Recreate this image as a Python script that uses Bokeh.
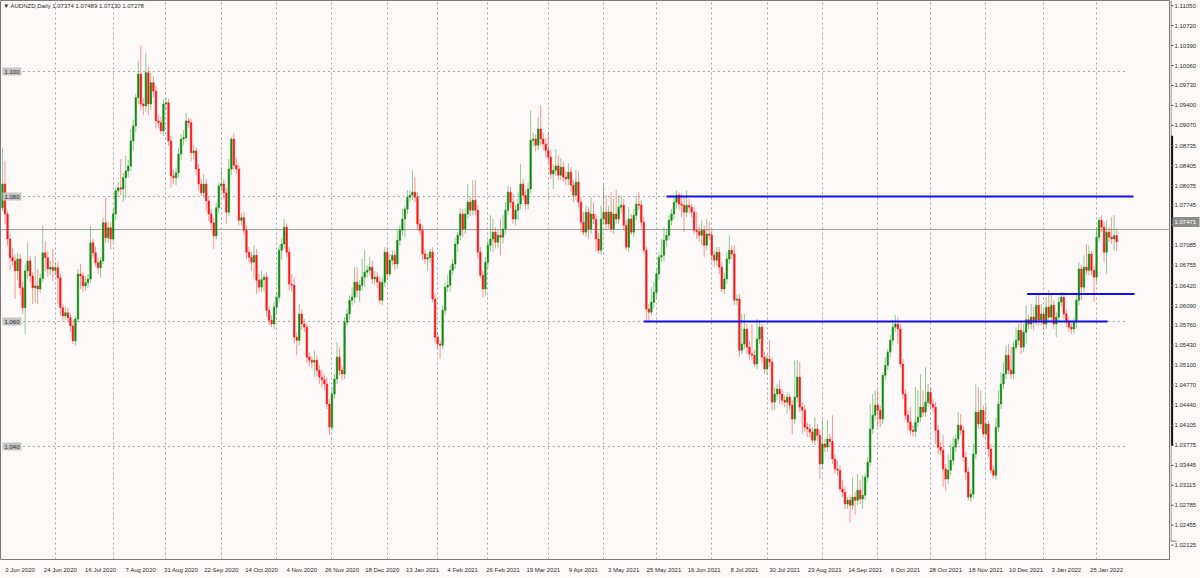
import numpy as np
from bokeh.plotting import figure
from bokeh.layouts import row
from bokeh.models import FixedTicker, ColumnDataSource, Label, Range1d, Span
from bokeh.embed import file_html
from bokeh.resources import INLINE
from bokeh.core.properties import value

symbol = "AUDNZD,Daily"
first_open = 1.0782
closes = [
    1.0820, 1.0772, 1.0732, 1.0702, 1.0697, 1.0681, 1.0700, 1.0654, 1.0622, 1.0681,
    1.0697, 1.0673, 1.0654, 1.0657, 1.0652, 1.0669, 1.0710, 1.0702, 1.0684, 1.0687,
    1.0682, 1.0686, 1.0670, 1.0622, 1.0609, 1.0614, 1.0606, 1.0593, 1.0569, 1.0604,
    1.0676, 1.0673, 1.0657, 1.0662, 1.0668, 1.0726, 1.0710, 1.0694, 1.0686, 1.0697,
    1.0758, 1.0734, 1.0750, 1.0732, 1.0772, 1.0809, 1.0814, 1.0812, 1.0830, 1.0841,
    1.0849, 1.0889, 1.0913, 1.0958, 1.0996, 1.0948, 1.0945, 1.0998, 1.0948, 1.0982,
    1.0969, 1.0921, 1.0918, 1.0905, 1.0948, 1.0950, 1.0889, 1.0833, 1.0830, 1.0838,
    1.0868, 1.0892, 1.0894, 1.0921, 1.0918, 1.0870, 1.0873, 1.0844, 1.0820, 1.0806,
    1.0820, 1.0793, 1.0772, 1.0758, 1.0737, 1.0782, 1.0817, 1.0820, 1.0806, 1.0775,
    1.0844, 1.0892, 1.0850, 1.0844, 1.0762, 1.0766, 1.0746, 1.0711, 1.0703, 1.0695,
    1.0706, 1.0666, 1.0655, 1.0667, 1.0671, 1.0618, 1.0602, 1.0596, 1.0623, 1.0639,
    1.0714, 1.0724, 1.0751, 1.0711, 1.0660, 1.0658, 1.0575, 1.0570, 1.0612, 1.0596,
    1.0591, 1.0543, 1.0538, 1.0535, 1.0538, 1.0522, 1.0511, 1.0507, 1.0500, 1.0468,
    1.0431, 1.0484, 1.0508, 1.0543, 1.0522, 1.0516, 1.0599, 1.0612, 1.0634, 1.0639,
    1.0663, 1.0650, 1.0658, 1.0671, 1.0679, 1.0682, 1.0687, 1.0668, 1.0671, 1.0663,
    1.0634, 1.0663, 1.0711, 1.0676, 1.0698, 1.0706, 1.0692, 1.0730, 1.0746, 1.0764,
    1.0780, 1.0799, 1.0802, 1.0807, 1.0799, 1.0756, 1.0746, 1.0708, 1.0700, 1.0702,
    1.0711, 1.0636, 1.0575, 1.0564, 1.0562, 1.0618, 1.0655, 1.0658, 1.0682, 1.0692,
    1.0724, 1.0738, 1.0772, 1.0748, 1.0772, 1.0791, 1.0778, 1.0794, 1.0778, 1.0711,
    1.0674, 1.0652, 1.0695, 1.0722, 1.0732, 1.0743, 1.0727, 1.0738, 1.0735, 1.0748,
    1.0778, 1.0807, 1.0791, 1.0764, 1.0778, 1.0788, 1.0820, 1.0802, 1.0788, 1.0812,
    1.0890, 1.0892, 1.0882, 1.0908, 1.0892, 1.0884, 1.0874, 1.0863, 1.0836, 1.0842,
    1.0849, 1.0834, 1.0847, 1.0831, 1.0828, 1.0839, 1.0818, 1.0802, 1.0823, 1.0791,
    1.0759, 1.0743, 1.0775, 1.0748, 1.0772, 1.0764, 1.0732, 1.0714, 1.0764, 1.0775,
    1.0756, 1.0775, 1.0748, 1.0772, 1.0764, 1.0783, 1.0786, 1.0754, 1.0719, 1.0764,
    1.0743, 1.0770, 1.0788, 1.0786, 1.0759, 1.0714, 1.0620, 1.0615, 1.0631, 1.0647,
    1.0676, 1.0703, 1.0706, 1.0730, 1.0738, 1.0762, 1.0772, 1.0791, 1.0802, 1.0788,
    1.0786, 1.0775, 1.0786, 1.0783, 1.0775, 1.0746, 1.0744, 1.0738, 1.0746, 1.0722,
    1.0740, 1.0738, 1.0706, 1.0698, 1.0711, 1.0687, 1.0652, 1.0668, 1.0700, 1.0714,
    1.0708, 1.0634, 1.0636, 1.0554, 1.0564, 1.0588, 1.0559, 1.0548, 1.0546, 1.0532,
    1.0572, 1.0591, 1.0543, 1.0524, 1.0540, 1.0535, 1.0471, 1.0484, 1.0492, 1.0484,
    1.0474, 1.0471, 1.0479, 1.0466, 1.0444, 1.0479, 1.0511, 1.0463, 1.0458, 1.0431,
    1.0428, 1.0423, 1.0410, 1.0428, 1.0418, 1.0372, 1.0404, 1.0399, 1.0412, 1.0408,
    1.0380, 1.0364, 1.0362, 1.0332, 1.0327, 1.0308, 1.0314, 1.0306, 1.0319, 1.0314,
    1.0330, 1.0316, 1.0322, 1.0351, 1.0375, 1.0428, 1.0450, 1.0466, 1.0458, 1.0444,
    1.0514, 1.0530, 1.0551, 1.0570, 1.0591, 1.0596, 1.0588, 1.0532, 1.0484, 1.0450,
    1.0439, 1.0426, 1.0424, 1.0439, 1.0447, 1.0463, 1.0455, 1.0471, 1.0487, 1.0468,
    1.0463, 1.0426, 1.0399, 1.0394, 1.0364, 1.0348, 1.0362, 1.0378, 1.0399, 1.0412,
    1.0434, 1.0426, 1.0383, 1.0359, 1.0319, 1.0324, 1.0388, 1.0455, 1.0436, 1.0458,
    1.0420, 1.0436, 1.0396, 1.0362, 1.0354, 1.0431, 1.0468, 1.0500, 1.0516, 1.0546,
    1.0522, 1.0516, 1.0559, 1.0570, 1.0586, 1.0559, 1.0583, 1.0603, 1.0596, 1.0607,
    1.0599, 1.0626, 1.0602, 1.0612, 1.0596, 1.0623, 1.0607, 1.0626, 1.0596, 1.0607,
    1.0631, 1.0639, 1.0612, 1.0599, 1.0591, 1.0588, 1.0599, 1.0634, 1.0684, 1.0655,
    1.0687, 1.0682, 1.0708, 1.0682, 1.0671, 1.0735, 1.0762, 1.0751, 1.0711, 1.0743,
    1.0735, 1.0732, 1.07374, 1.07278,
]
# wick lengths above / below the candle body, in pips
upper_wick_pips = [
    58, 37, 5, 8, 16, 10, 10, 8, 10, 10,
    29, 8, 6, 48, 27, 8, 44, 19, 10, 10,
    29, 8, 10, 6, 5, 10, 8, 8, 10, 5,
    8, 16, 6, 10, 8, 27, 6, 10, 8, 6,
    8, 40, 10, 8, 8, 5, 10, 46, 8, 24,
    10, 19, 10, 6, 21, 45, 10, 32, 10, 16,
    10, 8, 10, 10, 8, 8, 6, 8, 10, 8,
    10, 8, 12, 13, 5, 6, 10, 6, 8, 8,
    16, 8, 6, 8, 8, 8, 5, 26, 8, 8,
    16, 3, 10, 12, 6, 8, 10, 8, 8, 8,
    16, 10, 10, 15, 5, 8, 6, 8, 8, 8,
    8, 10, 13, 6, 8, 16, 13, 8, 16, 8,
    8, 6, 8, 6, 16, 8, 8, 11, 8, 10,
    8, 10, 8, 24, 16, 8, 8, 8, 8, 16,
    24, 24, 8, 29, 35, 8, 16, 11, 10, 8,
    8, 8, 8, 8, 10, 8, 8, 16, 8, 16,
    5, 11, 8, 35, 24, 8, 8, 8, 8, 6,
    5, 8, 8, 8, 6, 8, 8, 16, 8, 8,
    10, 5, 10, 8, 10, 29, 8, 32, 32, 8,
    8, 8, 8, 8, 38, 21, 8, 8, 26, 22,
    13, 11, 8, 13, 8, 19, 32, 8, 8, 10,
    48, 10, 8, 19, 38, 10, 10, 29, 10, 10,
    27, 17, 14, 8, 10, 14, 8, 8, 19, 17,
    8, 16, 11, 8, 27, 19, 8, 10, 22, 45,
    27, 10, 32, 24, 38, 19, 16, 10, 8, 19,
    8, 10, 14, 19, 8, 8, 6, 8, 24, 16,
    8, 8, 26, 21, 10, 8, 8, 10, 8, 5,
    16, 13, 24, 10, 5, 8, 29, 8, 16, 8,
    24, 19, 8, 8, 8, 8, 8, 10, 11, 24,
    8, 14, 8, 8, 48, 24, 8, 10, 48, 8,
    32, 11, 5, 8, 8, 30, 8, 11, 8, 14,
    8, 8, 8, 5, 8, 59, 27, 24, 8, 8,
    8, 8, 8, 19, 8, 8, 38, 8, 30, 8,
    42, 8, 14, 8, 14, 8, 5, 8, 32, 8,
    26, 16, 32, 5, 8, 40, 34, 24, 24, 8,
    5, 13, 5, 8, 11, 14, 11, 8, 8, 8,
    8, 24, 8, 56, 43, 53, 27, 56, 13, 8,
    8, 8, 8, 8, 24, 8, 26, 26, 16, 8,
    21, 18, 8, 8, 8, 8, 16, 45, 40, 32,
    8, 32, 6, 8, 8, 16, 22, 19, 19, 16,
    18, 37, 8, 21, 10, 13, 13, 23, 8, 21,
    16, 16, 18, 16, 8, 16, 27, 16, 8, 8,
    8, 8, 8, 8, 8, 8, 8, 8, 11, 6,
    19, 37, 14, 5, 8, 16, 5, 8, 8, 19,
    8, 32, 33, 11.5,
]
lower_wick_pips = [
    5, 16, 10, 21, 8, 45, 15, 12, 10, 42,
    12, 10, 26, 24, 24, 6, 6, 21, 12, 10,
    17, 8, 42, 13, 8, 6, 8, 10, 5, 8,
    5, 21, 10, 8, 8, 5, 8, 6, 10, 16,
    5, 8, 8, 16, 5, 10, 8, 10, 20, 32,
    10, 8, 15, 10, 10, 10, 15, 10, 18, 10,
    10, 12, 8, 5, 8, 10, 8, 19, 10, 12,
    8, 10, 10, 6, 8, 13, 10, 10, 10, 5,
    8, 16, 12, 10, 21, 6, 8, 8, 10, 19,
    6, 10, 8, 8, 8, 8, 8, 11, 8, 13,
    24, 22, 8, 8, 19, 10, 8, 5, 8, 10,
    8, 15, 8, 8, 10, 10, 10, 24, 8, 10,
    8, 10, 10, 10, 24, 10, 11, 12, 10, 8,
    13, 6, 8, 8, 8, 10, 8, 6, 10, 8,
    10, 11, 19, 8, 16, 8, 8, 8, 10, 10,
    6, 8, 8, 10, 5, 8, 10, 8, 8, 8,
    29, 8, 8, 8, 8, 10, 8, 10, 8, 18,
    8, 5, 8, 8, 22, 6, 8, 8, 10, 8,
    8, 13, 8, 13, 8, 8, 10, 8, 8, 10,
    5, 13, 10, 10, 10, 21, 10, 10, 29, 10,
    8, 8, 10, 8, 10, 16, 8, 8, 10, 8,
    8, 10, 10, 8, 10, 10, 12, 10, 8, 24,
    8, 8, 8, 8, 10, 10, 10, 11, 8, 8,
    16, 5, 8, 16, 8, 8, 21, 6, 8, 8,
    10, 8, 5, 8, 8, 8, 10, 8, 5, 8,
    5, 8, 8, 8, 11, 5, 21, 16, 5, 10,
    10, 10, 8, 10, 10, 8, 8, 8, 10, 10,
    19, 32, 8, 10, 8, 6, 12, 10, 16, 19,
    8, 8, 10, 10, 8, 11, 5, 8, 8, 8,
    8, 8, 8, 10, 6, 8, 11, 10, 8, 5,
    8, 8, 8, 8, 10, 8, 13, 13, 10, 16,
    8, 8, 19, 8, 24, 8, 8, 8, 38, 8,
    13, 8, 5, 8, 10, 24, 8, 8, 8, 8,
    8, 8, 8, 5, 8, 8, 8, 27, 8, 24,
    8, 8, 16, 8, 8, 8, 8, 8, 27, 13,
    8, 8, 8, 8, 8, 8, 24, 5, 8, 8,
    13, 8, 8, 9, 8, 8, 8, 8, 8, 8,
    8, 22, 11, 8, 29, 18, 8, 8, 8, 8,
    8, 8, 8, 13, 5, 8, 8, 8, 8, 8,
    5, 8, 13, 6, 5, 8, 8, 8, 8, 8,
    6, 8, 8, 5, 8, 11, 8, 19, 8, 8,
    13, 5, 8, 8, 10, 8, 8, 8, 8, 21,
    8, 8, 8, 8, 8, 8, 8, 10, 8, 21,
    8, 8, 8, 8, 40, 8, 8, 8, 16, 35,
    8, 8, 18, 14.8,
]
date_labels = ["2 Jun 2020", "24 Jun 2020", "16 Jul 2020", "7 Aug 2020", "31 Aug 2020",
               "22 Sep 2020", "14 Oct 2020", "4 Nov 2020", "26 Nov 2020", "18 Dec 2020",
               "13 Jan 2021", "4 Feb 2021", "26 Feb 2021", "19 Mar 2021", "9 Apr 2021",
               "3 May 2021", "25 May 2021", "16 Jun 2021", "8 Jul 2021", "30 Jul 2021",
               "23 Aug 2021", "14 Sep 2021", "6 Oct 2021", "28 Oct 2021", "18 Nov 2021",
               "10 Dec 2021", "3 Jan 2022", "25 Jan 2022"]
bars_per_label = 16
month_start_bars = [21, 44, 65, 87, 109, 131, 153, 173, 193, 217, 239, 260, 282, 304,
                    326, 348, 369, 391, 414, 435]
right_ticks = [1.11050, 1.10720, 1.10390, 1.10060, 1.09730, 1.09400, 1.09070, 1.08735,
               1.08405, 1.08075, 1.07745, 1.07425, 1.07085, 1.06755, 1.06420, 1.06090,
               1.05760, 1.05430, 1.05100, 1.04770, 1.04440, 1.04105, 1.03775, 1.03445,
               1.03115, 1.02785, 1.02455, 1.02125]
level_prices = [1.100, 1.080, 1.060, 1.040]
level_end_bar = 447.3
current_price = 1.07471
trend_x0 = [264.0, 255.0, 407.4]
trend_x1 = [449.7, 439.4, 450.1]
trend_price = [1.0800, 1.0600, 1.0644]
range_marker = [1.0378, 1.0890]

# ---------------------------------------------------------------------------
n = len(closes)
opens = [first_open] + closes[:-1]
tops = [max(o, c) for o, c in zip(opens, closes)]
bots = [min(o, c) for o, c in zip(opens, closes)]
highs = [t + u / 10000 for t, u in zip(tops, upper_wick_pips[:n])]
lows = [b - d / 10000 for b, d in zip(bots, lower_wick_pips[:n])]
bull = [c >= o for o, c in zip(opens, closes)]

BG = "#fdf9f8"
UP = "#0e8c0e"
DN = "#ff1414"
FONT = "Liberation Sans"
TXT = "#2a2a2a"
FS = "6px"

src = ColumnDataSource(dict(
    x=list(range(n)), top=tops, bottom=bots, high=highs, low=lows,
    body=[UP if b else DN for b in bull],
    wick=["#2a9a2a" if b else "#ff3030" for b in bull],
))

# price window (6250 px per 1.0 of price)
y_top = 1.11136
px_per_unit = 6250.0
main_h, scale_w, total_h = 578, 30, 578
axis_h = 19
frame_h = main_h - axis_h
main_w = 1170
x_start, x_end = -0.795, 464.41

p = figure(width=main_w, height=main_h, output_backend="svg", toolbar_location=None,
           x_range=Range1d(x_start, x_end),
           y_range=Range1d(y_top - frame_h / px_per_unit, y_top),
           y_axis_location=None, min_border_left=0, min_border_top=0,
           min_border_right=0, min_border_bottom=axis_h,
           background_fill_color=BG, border_fill_color=BG)
p.outline_line_color = "#7a7a7a"

# grid: monthly vertical dotted lines
p.xgrid.ticker = FixedTicker(ticks=month_start_bars)
p.xgrid.grid_line_color = "#a4a4a4"
p.xgrid.grid_line_dash = "2 3"
for g in p.ygrid:
    g.grid_line_color = None

# time axis (labels sit to the right of their bar, as in the terminal)
tick_pos = [bars_per_label * k + 7 for k in range(len(date_labels))]
p.xaxis.ticker = FixedTicker(ticks=tick_pos)
p.xaxis.major_label_overrides = {t: lbl for t, lbl in zip(tick_pos, date_labels)}
p.xaxis.major_tick_out = 0
p.xaxis.major_tick_in = 0
p.xaxis.minor_tick_out = 0
p.xaxis.minor_tick_in = 0
p.xaxis.axis_line_color = None
p.xaxis.major_label_standoff = 7
p.xaxis.major_label_text_font = FONT
p.xaxis.major_label_text_font_size = FS
p.xaxis.major_label_text_color = TXT

# dotted level lines
p.segment(x0=[x_start - 5] * len(level_prices), x1=[level_end_bar] * len(level_prices),
          y0=level_prices, y1=level_prices, line_color="#a4a4a4", line_dash="2 3", line_width=1)

# current price line
p.add_layout(Span(location=current_price, dimension="width", line_color="#9c9c9c",
                  line_width=1, level="underlay"))

# candles
p.segment(x0="x", y0="low", x1="x", y1="high", line_color="wick", line_alpha=0.5,
          line_width=1, source=src)
p.vbar(x="x", width=0.62, top="top", bottom="bottom", fill_color="body",
       line_color="body", line_width=0.5, source=src)

# blue trend lines
p.segment(x0=trend_x0, x1=trend_x1, y0=trend_price, y1=trend_price,
          line_color="#1010ee", line_width=2)

# level labels
for lv in level_prices:
    p.add_layout(Label(x=0.0, y=lv, text=f"{lv:.3f}", text_font=FONT,
                       text_font_size=FS, text_color=TXT, text_baseline="middle",
                       background_fill_color="#c4c4c4", padding=2))

# title
title = "\u25bc " + symbol + "  " + " ".join(
    f"{v:.5f}" for v in (opens[-1], highs[-1], lows[-1], closes[-1]))
p.add_layout(Label(x=0.3, y=y_top - 2 / px_per_unit, text=title, text_font=FONT,
                   text_font_size=FS, text_color=TXT, text_baseline="top"))

# ---------------- price scale on the right ----------------
ps = figure(width=scale_w, height=total_h, output_backend="svg", toolbar_location=None,
            x_range=Range1d(0, scale_w),
            y_range=Range1d(y_top - total_h / px_per_unit, y_top),
            x_axis_type=None, y_axis_type=None, min_border=0,
            background_fill_color=BG, border_fill_color=BG)
ps.outline_line_color = None
# axis line
ps.segment(x0=[0.5], x1=[0.5], y0=[y_top - frame_h / px_per_unit], y1=[y_top],
           line_color="#7a7a7a", line_width=1)
ps.segment(x0=[0], x1=[6], y0=[y_top - frame_h / px_per_unit] * 1,
           y1=[y_top - frame_h / px_per_unit] * 1, line_color="#7a7a7a", line_width=1)
# range marker
ps.segment(x0=[1.6], x1=[1.6], y0=[range_marker[0]], y1=[range_marker[1]],
           line_color="#111111", line_width=2)
# ticks and labels
ps.segment(x0=[0.5] * len(right_ticks), x1=[3] * len(right_ticks), y0=right_ticks,
           y1=right_ticks, line_color="#555555", line_width=1)
ps.text(x=[4] * len(right_ticks), y=right_ticks, text=[f"{t:.5f}" for t in right_ticks],
        text_font=value(FONT), text_font_size=FS, text_color=TXT,
        text_baseline="middle", text_align="left")
# current price box
ps.rect(x=[15.5], y=[current_price], width=27, height=10, height_units="screen",
        fill_color="#8c8c8c", line_color=None)
ps.text(x=[4], y=[current_price], text=[f"{current_price:.5f}"], text_font=value(FONT),
        text_font_size=FS, text_color="#ffffff", text_baseline="middle", text_align="left")

layout = row(p, ps, spacing=0)
open("out.html", "w").write(file_html(layout, INLINE))
